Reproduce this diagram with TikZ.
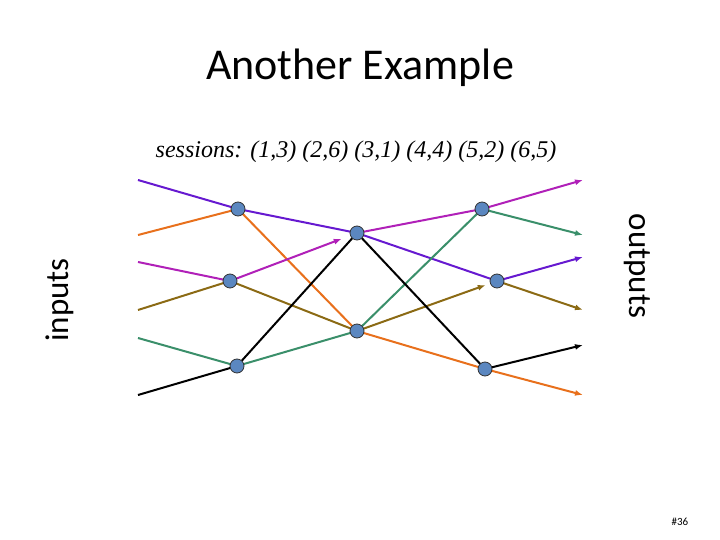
\documentclass[tikz,border=0pt]{standalone}
\usepackage{fontspec}
\setsansfont{Carlito}
\setmainfont{Liberation Serif}
\usetikzlibrary{arrows.meta,calc}
\definecolor{cpurple}{HTML}{6619D0}
\definecolor{corange}{HTML}{E8701C}
\definecolor{cmagenta}{HTML}{B020B8}
\definecolor{colive}{HTML}{8B6A14}
\definecolor{cteal}{HTML}{3A8F6A}
\definecolor{cnode}{HTML}{5B87C0}
\tikzset{%
    % switch nodes
    sw/.style={circle,draw=black!80,thick,fill=cnode,minimum size=14pt,inner sep=0pt},
    % flow lines
    flow/.style={line width=2pt},
    tip/.style={-{Latex[length=8pt,width=6pt]}},
}
\begin{document}
\begin{tikzpicture}[x=1pt,y=-1pt]
	\useasboundingbox (0,0) rectangle (720,540);
	\node[font=\sffamily\fontsize{44}{50}\selectfont] (title) at (360,68) {Another Example};
	\node[font=\itshape\fontsize{24}{28}\selectfont] (sess) at (356,152) {sessions: (1,3) (2,6) (3,1) (4,4) (5,2) (6,5)};
	\node[font=\sffamily\fontsize{33}{38}\selectfont,rotate=90] (in) at (60,300) {inputs};
	\node[font=\sffamily\fontsize{33}{38}\selectfont,rotate=-90] (out) at (637,266) {outputs};
	\node[font=\sffamily\fontsize{11}{13}\selectfont] (pg) at (680,522) {\#36};

	\coordinate (i1) at (138,180);
	\coordinate (i2) at (138,235);
	\coordinate (i3) at (138,262);
	\coordinate (i4) at (138,310);
	\coordinate (i5) at (138,338);
	\coordinate (i6) at (138,395);
	\coordinate (o1) at (583,180);
	\coordinate (o2) at (583,235);
	\coordinate (o3) at (583,257);
	\coordinate (o4) at (583,310);
	\coordinate (o5) at (583,345);
	\coordinate (o6) at (583,395);

	\coordinate (A) at (238,209);
	\coordinate (B) at (230,281);
	\coordinate (C) at (237,366);
	\coordinate (D) at (357,233);
	\coordinate (E) at (357,331);
	\coordinate (F) at (482,209);
	\coordinate (G) at (497,281);
	\coordinate (H) at (485,369);

	\draw[flow,cpurple,tip] (i1) -- (A) -- (D) -- (G) -- (o3);
	\draw[flow,corange,tip] (i2) -- (A) -- (E) -- (H) -- (o6);
	\draw[flow,cmagenta] (i3) -- (B);
	\draw[flow,cmagenta,tip] (B) -- ($(B)!0.88!(D)$);
	\draw[flow,cmagenta,tip] (D) -- (F) -- (o1);
	\draw[flow,colive] (i4) -- (B) -- (E);
	\draw[flow,colive,tip] (E) -- ($(E)!0.92!(G)$);
	\draw[flow,colive,tip] (G) -- (o4);
	\draw[flow,cteal,tip] (i5) -- (C) -- (E) -- (F) -- (o2);
	\draw[flow,black,tip] (i6) -- (C) -- (D) -- (H) -- (o5);

	\foreach \n in {A,B,C,D,E,F,G,H}
		\node[sw] (n\n) at (\n) {};
\end{tikzpicture}
\end{document}
